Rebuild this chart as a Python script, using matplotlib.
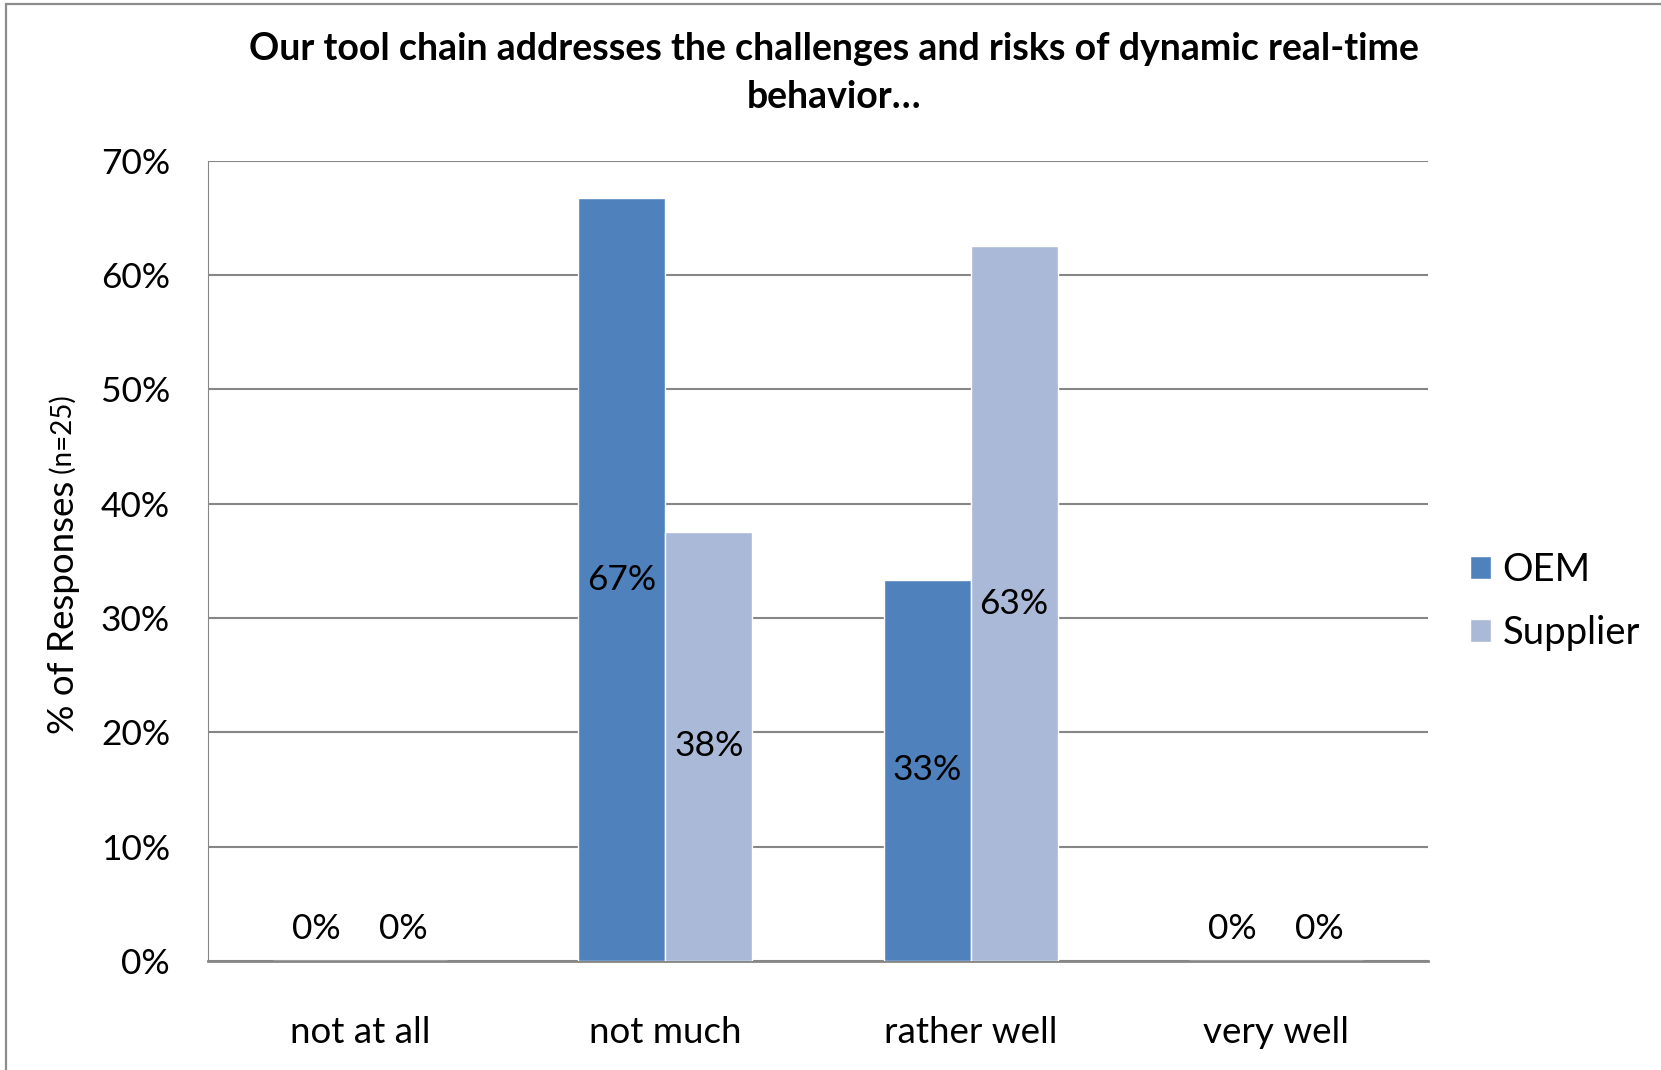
import numpy as np
import matplotlib.pyplot as plt
from matplotlib.patches import Rectangle

# Daten
categories = ["not at all", "not much", "rather well", "very well"]
oem = [0.0, 0.667, 0.333, 0.0]
supplier = [0.0, 0.375, 0.625, 0.0]
oem_labels = ["0%", "67%", "33%", "0%"]
supplier_labels = ["0%", "38%", "63%", "0%"]

plt.rcParams['font.family'] = ['Lato', 'DejaVu Sans']

fig = plt.figure(figsize=(16.61, 10.70), dpi=100)
ax = fig.add_axes([0.125, 0.102, 0.735, 0.748])

# Rahmen um das Diagramm
fig.patches.append(Rectangle((5.5 / 1661, -0.1), 1.2, 1.1 - 4.5 / 1070,
                             transform=fig.transFigure, fill=False,
                             edgecolor="#8c8c8c", linewidth=1.6))

x = np.arange(len(categories))
w = 0.285
b1 = ax.bar(x - w / 2, oem, w, color="#4F81BD", edgecolor="white", linewidth=1, label="OEM", zorder=3)
b2 = ax.bar(x + w / 2, supplier, w, color="#AAB9D7", edgecolor="white", linewidth=1, label="Supplier", zorder=3)

for bars, labels in ((b1, oem_labels), (b2, supplier_labels)):
    for bar, lab in zip(bars, labels):
        h = bar.get_height()
        y = h / 2 if h > 0 else 0.028
        ax.text(bar.get_x() + bar.get_width() / 2, y, lab, ha="center", va="center",
                fontsize=25.5, zorder=4)

ax.set_xlim(-0.5, 3.5)
ax.set_ylim(0, 0.7)
ax.set_yticks(np.arange(0, 0.71, 0.1))
ax.set_yticklabels([f"{int(round(v * 100))}%" for v in np.arange(0, 0.71, 0.1)], fontsize=25.5)
ax.set_xticks(x)
ax.set_xticklabels(categories, fontsize=26.5)
ax.tick_params(axis="both", length=0)
ax.tick_params(axis="y", pad=27)
ax.tick_params(axis="x", pad=40)
ax.grid(axis="y", color="#868686", linewidth=1.5, zorder=0)
for s in ("top", "right"):
    ax.spines[s].set_visible(False)
ax.spines["left"].set_color("#868686")
ax.spines["bottom"].set_color("#868686")
ax.spines["bottom"].set_linewidth(2)

# y-Achsenbeschriftung
ax.text(-0.118, 0.6, "% of Responses", rotation=90, ha="center", va="top",
        fontsize=26.5, transform=ax.transAxes)
ax.text(-0.118, 0.6, " (n=25)", rotation=90, ha="center", va="bottom",
        fontsize=20, transform=ax.transAxes)

fig.text(0.502, 0.954, "Our tool chain addresses the challenges and risks of dynamic real-time",
         ha="center", va="center", fontsize=27, fontweight="bold")
fig.text(0.502, 0.909, "behavior\u2026", ha="center", va="center", fontsize=27, fontweight="bold")

ax.legend(loc="center left", bbox_to_anchor=(1.006, 0.449), frameon=False, fontsize=27.5,
          handlelength=0.55, handleheight=0.55, handletextpad=0.3, labelspacing=0.7)

fig.savefig("out.png", dpi=100)
